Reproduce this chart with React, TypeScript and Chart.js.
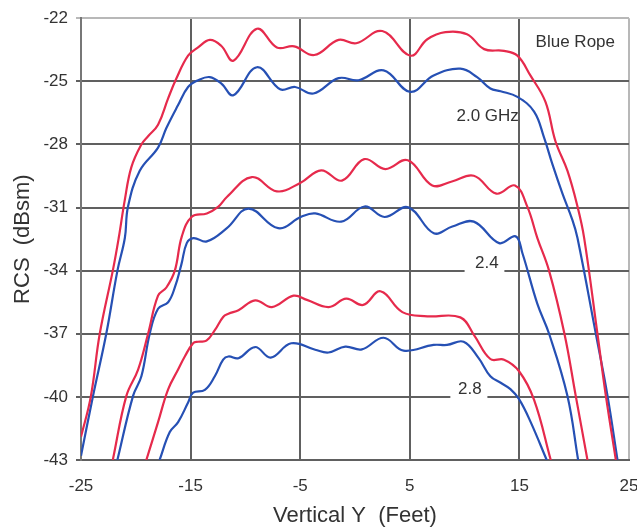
import React, { useEffect, useRef } from "react";
import { Chart, registerables } from "chart.js";

Chart.register(...registerables);

// ---- axis ranges / ticks ----
const xMin = -25;
const xMax = 25;
const xStep = 10;
const yMin = -43;
const yMax = -22;
const yStep = 3;

// ---- series (Vertical Y in feet, RCS in dBsm) ----
const red20Feet = [-25, -24.11, -23.29, -22.08, -21.56, -21.01, -20.41, -19.49, -18.88, -17.97, -17.05, -16.3, -15.23, -14.32, -13.25, -12.21, -11.09, -8.95, -7.13, -5.55, -3.72, -1.5, 0.11, 2.49, 5.05, 6.6, 8.24, 10.22, 11.78, 13.6, 14.82, 16.0, 17.37, 18.29, 19.38, 20.3, 20.91, 22.12, 22.89, 23.8];
const red20Rcs = [-41.9, -40.0, -37.0, -33.95, -32.45, -30.66, -29.09, -28.0, -27.61, -27.06, -25.81, -24.87, -23.78, -23.39, -23.03, -23.31, -24.02, -22.5, -23.39, -23.34, -23.75, -23.03, -23.19, -22.61, -23.78, -23.0, -22.66, -22.76, -23.47, -23.55, -23.78, -24.72, -25.97, -27.85, -29.25, -30.95, -32.45, -37.0, -39.95, -43.0];

const blue20Feet = [-25, -23.9, -22.69, -21.68, -21.0, -20.71, -19.64, -17.97, -17.21, -16.14, -15.23, -14.32, -13.25, -12.19, -11.09, -8.95, -6.83, -5.46, -3.79, -1.5, 0.32, 2.61, 5.05, 7.17, 9.61, 11.14, 12.35, 13.29, 14.82, 16.34, 17.26, 18.01, 18.93, 19.84, 20.3, 21.97, 23.04, 23.95];
const blue20Rcs = [-42.8, -39.95, -36.99, -34.01, -32.45, -30.95, -29.25, -28.15, -27.22, -26.13, -25.27, -24.95, -24.8, -25.11, -25.66, -24.33, -25.38, -25.27, -25.58, -24.85, -24.95, -24.48, -25.5, -24.72, -24.4, -24.8, -25.34, -25.47, -25.74, -26.44, -27.69, -28.94, -30.34, -31.6, -32.45, -36.99, -39.95, -43.0];

const red24Feet = [-22.1, -20.86, -19.79, -18.88, -17.97, -17.21, -16.44, -15.8, -14.89, -13.52, -12.49, -11.69, -9.41, -7.13, -5.0, -3.08, -1.19, 0.84, 2.76, 4.82, 7.05, 8.84, 10.84, 12.9, 14.6, 15.73, 16.64, 17.71, 19.11, 20.14, 21.21];
const red24Rcs = [-43.0, -39.95, -38.7, -37.0, -35.19, -34.8, -34.0, -32.37, -31.44, -31.28, -30.97, -30.5, -29.55, -30.23, -29.83, -29.23, -29.72, -28.7, -29.17, -28.75, -29.95, -29.76, -29.49, -30.34, -29.95, -30.97, -32.45, -34.01, -37.0, -39.95, -43.0];

const blue24Feet = [-21.68, -20.25, -19.49, -18.73, -17.97, -17.05, -16.44, -15.84, -15.35, -14.74, -13.52, -11.69, -9.72, -7.01, -4.91, -3.63, -1.26, 0.87, 2.7, 4.86, 7.19, 8.88, 10.84, 13.15, 14.66, 15.27, 16.64, 17.71, 19.38, 20.36];
const blue24Rcs = [-43.0, -39.95, -39.02, -37.0, -35.81, -35.5, -34.8, -33.7, -32.69, -32.45, -32.61, -31.98, -31.05, -31.98, -31.44, -31.28, -31.67, -30.95, -31.45, -30.99, -32.22, -31.9, -31.67, -32.69, -32.37, -33.16, -35.58, -37.0, -39.95, -43.0];

const red28Feet = [-19.04, -17.97, -17.05, -16.14, -15.53, -14.77, -14.32, -13.56, -12.79, -12.03, -11.55, -10.63, -9.11, -7.58, -5.61, -4.39, -2.4, -0.8, 0.75, 2.32, 4.32, 6.6, 9.61, 10.89, 12.35, 13.6, 14.97, 16.34, 17.86];
const red28Rcs = [-43.0, -41.2, -39.64, -38.7, -38.08, -37.45, -37.38, -37.33, -36.83, -36.2, -36.05, -35.88, -35.41, -35.73, -35.19, -35.39, -35.73, -35.33, -35.63, -34.98, -35.97, -36.17, -36.22, -37.09, -38.2, -38.23, -38.78, -40.14, -43.0];

const blue28Feet = [-17.83, -16.9, -16.14, -15.23, -14.77, -13.7, -12.79, -12.03, -11.55, -10.63, -9.11, -7.69, -5.82, -3.63, -2.42, -0.89, 0.63, 2.61, 4.43, 7.17, 8.4, 9.91, 11.28, 12.35, 13.29, 14.18, 14.97, 16.03, 17.49];
const blue28Rcs = [-43.0, -41.67, -41.2, -40.27, -39.8, -39.67, -39.02, -38.23, -38.08, -38.16, -37.63, -38.13, -37.45, -37.76, -37.89, -37.61, -37.74, -37.19, -37.8, -37.53, -37.53, -37.38, -38.16, -39.02, -39.33, -39.63, -40.11, -41.2, -43.0];

// ---- text annotations ----
const noteTexts = ["Blue Rope", "2.0 GHz", "2.4", "2.8"];
const noteFeet = [20.1, 14.95, 12.03, 10.48];
const noteRcs = [-23.13, -26.66, -33.67, -39.65];

const RED = "#e62a4c";
const BLUE = "#2650b4";
const GRID = "#606060";
const TEXT = "#333333";
const FONT = "'Liberation Sans', Arial, Helvetica, sans-serif";

function zip(xs: number[], ys: number[]) {
  return xs.map((x, i) => ({ x, y: ys[i] }));
}

const noteStyle = [
  { align: "center", gap: null },
  { align: "right", gap: null },
  { align: "center", gap: { from: 10.0, to: 13.63, at: -34 } },
  { align: "center", gap: { from: 8.7, to: 12.08, at: -40 } },
];

const notesPlugin = {
  id: "notes",
  beforeDatasetsDraw(chart: any) {
    const { ctx, scales } = chart;
    const xs = scales.x;
    const ys = scales.y;
    ctx.save();
    noteTexts.forEach((t, i) => {
      const st: any = noteStyle[i];
      if (st.gap) {
        const x0 = xs.getPixelForValue(st.gap.from);
        const x1 = xs.getPixelForValue(st.gap.to);
        const yy = ys.getPixelForValue(st.gap.at);
        ctx.fillStyle = "#ffffff";
        ctx.fillRect(x0, yy - 2.5, x1 - x0, 5);
      }
      ctx.fillStyle = TEXT;
      ctx.font = `17px ${FONT}`;
      ctx.textAlign = st.align;
      ctx.textBaseline = "middle";
      ctx.fillText(t, xs.getPixelForValue(noteFeet[i]), ys.getPixelForValue(noteRcs[i]));
    });
    ctx.restore();
  },
};

export default function App() {
  const canvasRef = useRef<HTMLCanvasElement | null>(null);

  useEffect(() => {
    if (!canvasRef.current) return;
    const mk = (label: string, xs: number[], ys: number[], color: string) => ({
      label,
      data: zip(xs, ys),
      borderColor: color,
      backgroundColor: color,
      borderWidth: 2.2,
      pointRadius: 0,
      tension: 0.4,
      fill: false,
    });
    const chart = new Chart(canvasRef.current, {
      type: "line",
      data: {
        datasets: [
          mk("2.0 GHz red", red20Feet, red20Rcs, RED),
          mk("2.0 GHz blue", blue20Feet, blue20Rcs, BLUE),
          mk("2.4 GHz red", red24Feet, red24Rcs, RED),
          mk("2.4 GHz blue", blue24Feet, blue24Rcs, BLUE),
          mk("2.8 GHz red", red28Feet, red28Rcs, RED),
          mk("2.8 GHz blue", blue28Feet, blue28Rcs, BLUE),
        ],
      },
      options: {
        responsive: false,
        animation: false,
        devicePixelRatio: 1,
        layout: { padding: { left: 0, right: 31, top: 12, bottom: 0 } },
        plugins: { legend: { display: false }, tooltip: { enabled: false } },
        scales: {
          x: {
            type: "linear",
            min: xMin,
            max: xMax,
            afterFit: (s: any) => {
              s.height = 71;
            },
            ticks: {
              stepSize: xStep,
              color: TEXT,
              font: { family: FONT, size: 17 },
              padding: 16,
              maxRotation: 0,
            },
            grid: {
              drawTicks: false,
              lineWidth: 2,
              color: (c: any) => (c.index === 5 ? "#b8b8b8" : GRID),
            },
            border: { display: true, color: GRID, width: 2 },
            title: {
              display: true,
              text: "Vertical Y  (Feet)",
              color: TEXT,
              font: { family: FONT, size: 22 },
              padding: { top: 0, bottom: 2 },
            },
          },
          y: {
            type: "linear",
            min: yMin,
            max: yMax,
            afterFit: (s: any) => {
              s.width = 81;
            },
            ticks: {
              stepSize: yStep,
              color: TEXT,
              font: { family: FONT, size: 17 },
              padding: 8,
            },
            grid: {
              drawTicks: true,
              tickLength: 5,
              lineWidth: 2,
              color: (c: any) => (c.index === 7 ? "#b8b8b8" : GRID),
            },
            border: { display: true, color: "#777777", width: 2 },
            title: {
              display: true,
              text: "RCS  (dBsm)",
              color: TEXT,
              font: { family: FONT, size: 22 },
              padding: { top: 10, bottom: 0 },
            },
          },
        },
      },
      plugins: [notesPlugin],
    });
    return () => chart.destroy();
  }, []);

  return (
    <div
      style={{
        position: "fixed",
        left: 0,
        top: 0,
        width: 637,
        height: 531,
        overflow: "hidden",
        background: "#ffffff",
      }}
    >
      <canvas ref={canvasRef} width={660} height={531} style={{ display: "block" }} />
    </div>
  );
}
